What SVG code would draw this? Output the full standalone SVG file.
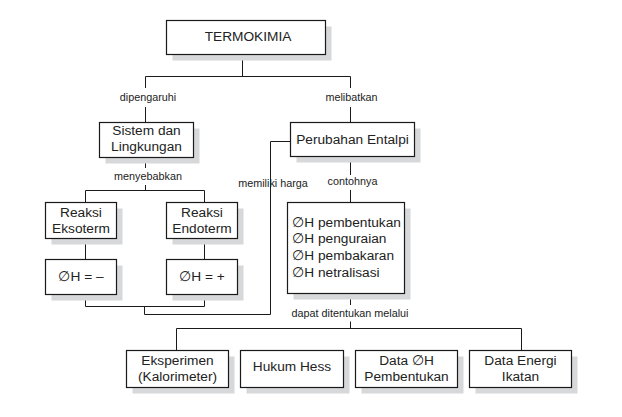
<svg xmlns="http://www.w3.org/2000/svg" width="622" height="417" viewBox="0 0 622 417">
<style>
.sh{fill:#d6d8d9;stroke:none}
.bx{fill:#fff;stroke:#1a1a1a;stroke-width:1.2}
.t{font-family:"Liberation Sans",Arial,sans-serif;font-size:13.7px;fill:#222;text-anchor:middle}
.tl{text-anchor:start}
.lb{font-family:"Liberation Sans",Arial,sans-serif;font-size:10.8px;fill:#222;text-anchor:middle}
.ln{fill:none;stroke:#1a1a1a;stroke-width:1}
</style>
<rect width="622" height="417" fill="#fff"/>
<g id="connectors">
<path class="ln" d="M242.5,54.5V76.5M145.5,76.5H350.5M145.5,76.5V88M145.5,107V122.5M350.5,76.5V88M350.5,107V122.5"/>
<path class="ln" d="M145.5,157.5V168M145.5,185V190.5M85.5,190.5H204.5M85.5,190.5V202.5M204.5,190.5V202.5"/>
<path class="ln" d="M85.5,238.5V259.5M204.5,238.5V259.5"/>
<path class="ln" d="M85.5,294.5V306.5H204.5V294.5M144.5,306.5V314.5H270.5V141.5H290.5"/>
<path class="ln" d="M350.5,156.5V175M350.5,190V202.5"/>
<path class="ln" d="M350.5,293.5V305M350.5,321.5V328.5M176.5,328.5H521.5M176.5,328.5V350.5M521.5,328.5V350.5"/>
</g>
<g id="labels">
<text class="lb" x="148" y="100.5">dipengaruhi</text>
<text class="lb" x="351.5" y="100.5">melibatkan</text>
<text class="lb" x="148" y="179.5">menyebabkan</text>
<text class="lb" x="273" y="186.5">memiliki harga</text>
<text class="lb" x="352.5" y="184.5">contohnya</text>
<text class="lb" x="350" y="316.5">dapat ditentukan melalui</text>
</g>
<g id="termokimia">
<rect class="sh" x="172.5" y="26.5" width="159" height="34"/>
<rect class="bx" x="166.5" y="20.5" width="159" height="34"/>
<text class="t" x="248" y="41">TERMOKIMIA</text>
</g>
<g id="sistem">
<rect class="sh" x="105.5" y="128.5" width="94" height="35"/>
<rect class="bx" x="99.5" y="122.5" width="94" height="35"/>
<text class="t" x="146.5" y="135">Sistem dan</text>
<text class="t" x="146.5" y="150.7">Lingkungan</text>
</g>
<g id="perubahan">
<rect class="sh" x="296.5" y="128.5" width="124" height="34"/>
<rect class="bx" x="290.5" y="122.5" width="124" height="34"/>
<text class="t" x="352.5" y="144.3">Perubahan Entalpi</text>
</g>
<g id="eksoterm">
<rect class="sh" x="51.5" y="208.5" width="71" height="36"/>
<rect class="bx" x="45.5" y="202.5" width="71" height="36"/>
<text class="t" x="81" y="216.7">Reaksi</text>
<text class="t" x="81" y="233">Eksoterm</text>
</g>
<g id="endoterm">
<rect class="sh" x="172.5" y="208.5" width="71" height="36"/>
<rect class="bx" x="166.5" y="202.5" width="71" height="36"/>
<text class="t" x="202" y="216.7">Reaksi</text>
<text class="t" x="202" y="233">Endoterm</text>
</g>
<g id="dh-negatif">
<rect class="sh" x="51.5" y="265.5" width="71" height="35"/>
<rect class="bx" x="45.5" y="259.5" width="71" height="35"/>
<text class="t" x="81" y="280.7">∅H = –</text>
</g>
<g id="dh-positif">
<rect class="sh" x="172.5" y="265.5" width="71" height="35"/>
<rect class="bx" x="166.5" y="259.5" width="71" height="35"/>
<text class="t" x="202" y="280.7">∅H = +</text>
</g>
<g id="contoh">
<rect class="sh" x="293.5" y="208.5" width="117" height="91"/>
<rect class="bx" x="287.5" y="202.5" width="117" height="91"/>
<text class="t tl" x="292.3" y="226.7">∅H pembentukan</text>
<text class="t tl" x="292.3" y="243.3">∅H penguraian</text>
<text class="t tl" x="292.3" y="260">∅H pembakaran</text>
<text class="t tl" x="292.3" y="276.7">∅H netralisasi</text>
</g>
<g id="eksperimen">
<rect class="sh" x="132.5" y="356.5" width="102" height="37"/>
<rect class="bx" x="126.5" y="350.5" width="102" height="37"/>
<text class="t" x="177.5" y="365.3">Eksperimen</text>
<text class="t" x="177.5" y="381">(Kalorimeter)</text>
</g>
<g id="hess">
<rect class="sh" x="246.5" y="356.5" width="103" height="37"/>
<rect class="bx" x="240.5" y="350.5" width="103" height="37"/>
<text class="t" x="292" y="371">Hukum Hess</text>
</g>
<g id="data-dh">
<rect class="sh" x="361.5" y="356.5" width="102" height="37"/>
<rect class="bx" x="355.5" y="350.5" width="102" height="37"/>
<text class="t" x="406.5" y="365.3">Data ∅H</text>
<text class="t" x="406.5" y="381">Pembentukan</text>
</g>
<g id="energi">
<rect class="sh" x="475.5" y="356.5" width="102" height="37"/>
<rect class="bx" x="469.5" y="350.5" width="102" height="37"/>
<text class="t" x="520.5" y="365.3">Data Energi</text>
<text class="t" x="520.5" y="381">Ikatan</text>
</g>
</svg>
